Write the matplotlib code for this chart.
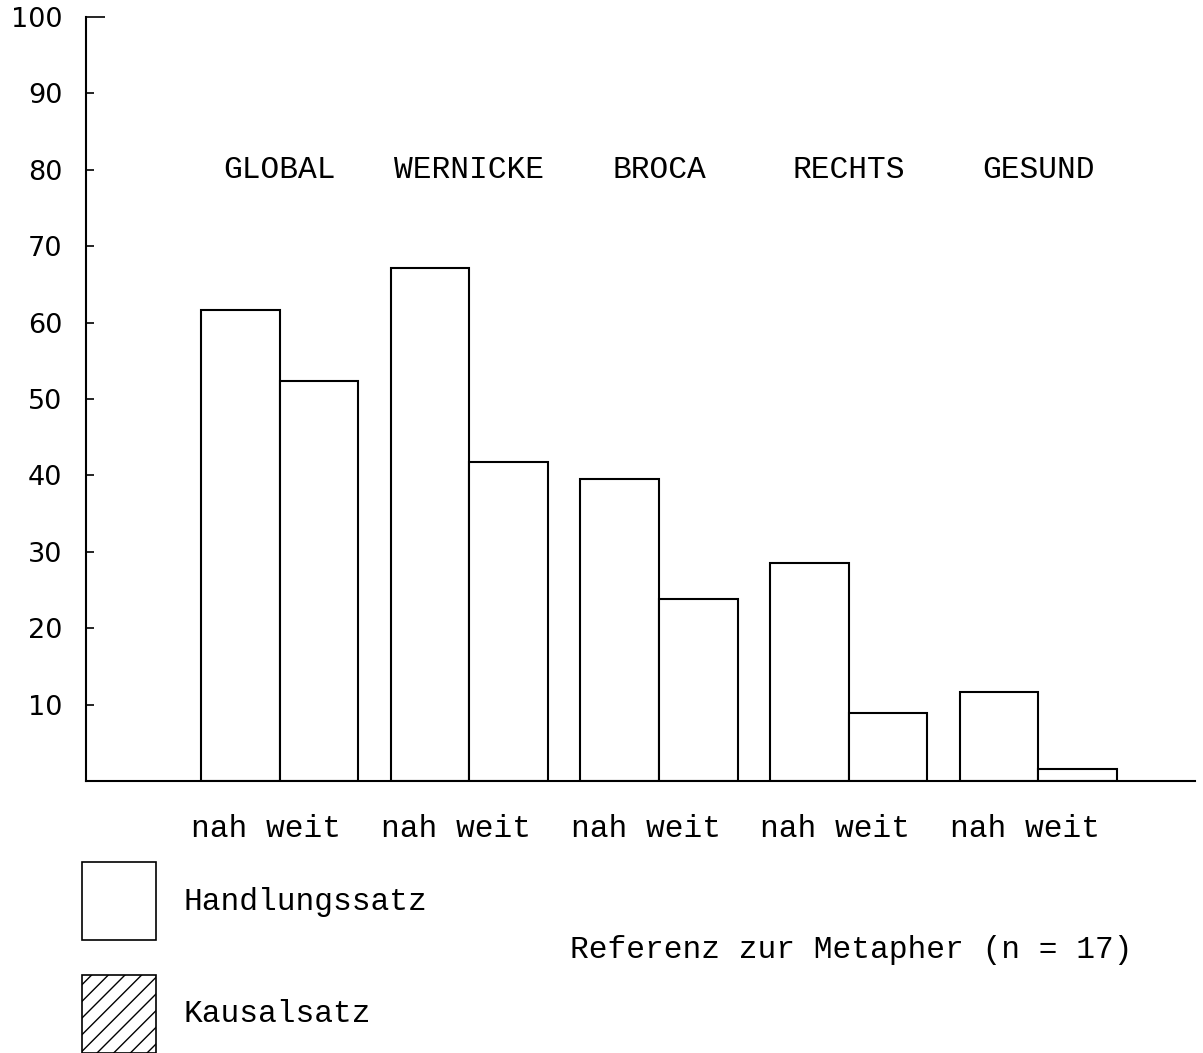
import matplotlib
matplotlib.use("Agg")
import matplotlib.pyplot as plt
import numpy as np
from matplotlib.patches import Patch

groups = ["GLOBAL", "WERNICKE", "BROCA", "RECHTS", "GESUND"]
nah = [61.6, 67.2, 39.5, 28.5, 11.6]
weit = [52.3, 41.7, 23.8, 8.9, 1.6]
yticks = [10, 20, 30, 40, 50, 60, 70, 80, 90, 100]
legend_labels = ["Handlungssatz", "Kausalsatz"]
note = "Referenz zur Metapher (n = 17)"

mono = "Liberation Mono"
fs = 22.5

fig = plt.figure(figsize=(12.03, 10.53), dpi=100)
ax = fig.add_axes([0.0715, 0.2583, 0.9218, 0.7255])

x = np.arange(len(groups))
w = 0.415
ax.bar(x - w / 2, nah, w, facecolor="white", edgecolor="black", linewidth=1.5)
ax.bar(x + w / 2, weit, w, facecolor="white", edgecolor="black", linewidth=1.5)

for xi, name in zip(x, groups):
    ax.text(xi, 80, name, ha="center", va="center", fontsize=fs, family=mono)

ax.set_xlim(-1.021, 4.826)
ax.set_ylim(0, 100)
ax.set_yticks(yticks)
ax.set_yticklabels([str(v) for v in yticks], fontsize=19.5, family="DejaVu Sans")
ax.tick_params(axis="y", direction="in", length=6, width=1.2, pad=17)
ax.yaxis.get_major_ticks()[-1].tick1line.set_markersize(14)

# "nah weit" under each pair, set a bit left of the pair centre like the original
ax.set_xticks(x - 0.07)
ax.set_xticklabels(["nah weit"] * len(groups), fontsize=fs, family=mono)
ax.tick_params(axis="x", length=0, pad=24)

for side in ["top", "right"]:
    ax.spines[side].set_visible(False)
for side in ["left", "bottom"]:
    ax.spines[side].set_linewidth(1.5)

handles = [
    Patch(facecolor="white", edgecolor="black", linewidth=1.2),
    Patch(facecolor="white", edgecolor="black", linewidth=1.2, hatch="//"),
]
fig.legend(handles, legend_labels, loc="upper left", bbox_to_anchor=(0.068, 0.181),
           frameon=False, borderpad=0, borderaxespad=0, handlelength=2.37,
           handleheight=3.46, labelspacing=1.1, handletextpad=0.88,
           prop={"family": mono, "size": fs})

fig.text(570 / 1203, 1 - 950 / 1053, note, ha="left", va="center", fontsize=fs, family=mono)

fig.savefig("out.png", dpi=100)
